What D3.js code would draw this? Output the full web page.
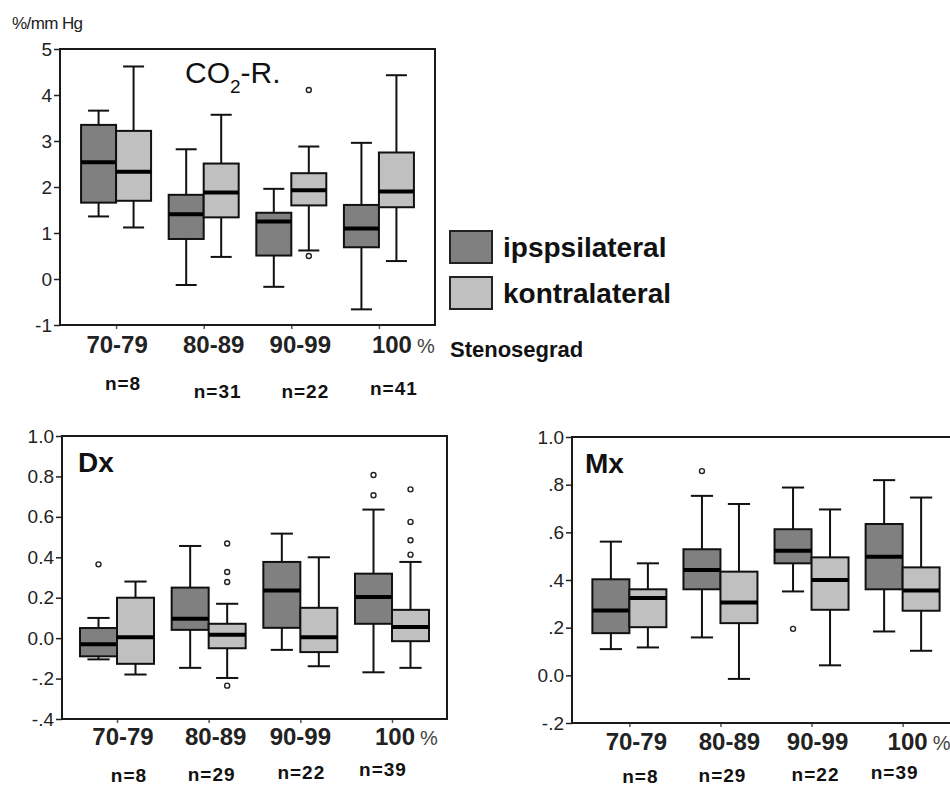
<!DOCTYPE html>
<html><head><meta charset="utf-8">
<script src="https://cdn.jsdelivr.net/npm/d3@7"></script>
<style>body{margin:0;background:#fff;overflow:hidden} svg{display:block;font-family:"Liberation Sans",Arial,sans-serif}</style>
</head><body><svg id="chart" width="950" height="787"></svg>
<script>
// ---------- data ----------
const categories = ["70-79","80-89","90-99","100"];
const groups = ["ipspsilateral","kontralateral"];
// box stats: [min, q1, median, q3, max]
const co2Ipsi   = [[1.36,1.66,2.54,3.35,3.66],[-0.13,0.87,1.41,1.83,2.82],[-0.17,0.51,1.25,1.44,1.96],[-0.66,0.69,1.10,1.61,2.96]];
const co2Kontra = [[1.12,1.70,2.33,3.22,4.62],[0.48,1.34,1.88,2.51,3.57],[0.62,1.60,1.93,2.30,2.88],[0.39,1.56,1.90,2.75,4.43]];
const co2Outliers = [["90-99","kontralateral",4.11],["90-99","kontralateral",0.50]];
const co2N = ["n=8","n=31","n=22","n=41"];
const co2Ticks = [-1,0,1,2,3,4,5];
const co2TickLabels = ["-1","0","1","2","3","4","5"];

const dxIpsi   = [[-0.105,-0.09,-0.03,0.05,0.10],[-0.147,0.041,0.096,0.25,0.456],[-0.058,0.051,0.236,0.377,0.517],[-0.169,0.071,0.203,0.319,0.636]];
const dxKontra = [[-0.18,-0.127,0.005,0.20,0.28],[-0.197,-0.05,0.017,0.071,0.17],[-0.139,-0.069,0.005,0.15,0.40],[-0.147,-0.015,0.055,0.14,0.377]];
const dxOutliers = [["70-79","ipspsilateral",0.365],["80-89","kontralateral",0.468],["80-89","kontralateral",0.327],["80-89","kontralateral",0.278],["80-89","kontralateral",-0.235],
                    ["100","ipspsilateral",0.807],["100","ipspsilateral",0.707],["100","kontralateral",0.736],["100","kontralateral",0.575],["100","kontralateral",0.484],["100","kontralateral",0.413]];
const dxN = ["n=8","n=29","n=22","n=39"];
const dxTicks = [-0.4,-0.2,0,0.2,0.4,0.6,0.8,1.0];
const dxTickLabels = ["-.4","-.2","0.0","0.2","0.4","0.6","0.8","1.0"];

const mxIpsi   = [[0.110,0.177,0.272,0.403,0.561],[0.159,0.361,0.442,0.529,0.753],[0.352,0.470,0.523,0.613,0.788],[0.184,0.361,0.498,0.635,0.819]];
const mxKontra = [[0.117,0.202,0.324,0.361,0.470],[-0.015,0.219,0.306,0.435,0.719],[0.042,0.275,0.400,0.495,0.696],[0.103,0.271,0.356,0.453,0.746]];
const mxOutliers = [["80-89","ipspsilateral",0.857],["90-99","ipspsilateral",0.195]];
const mxN = ["n=8","n=29","n=22","n=39"];
const mxTicks = [-0.2,0,0.2,0.4,0.6,0.8,1.0];
const mxTickLabels = ["-.2","0.0",".2",".4",".6",".8","1.0"];

// ---------- layout ----------
const colors = {"ipspsilateral":"#808080","kontralateral":"#c0c0c0"};
const svg = d3.select("#chart");

const panels = [
  {frame:{x0:60,x1:435,y0:49,y1:325}, domain:[-1,5], ticks:co2Ticks, tickLabels:co2TickLabels,
   ipsi:co2Ipsi, kontra:co2Kontra, outliers:co2Outliers, n:co2N, pad:0.64, boxW:35,
   catDx:[1,10,9,13], catY:353, nDx:[7,14,14,15], nY:[390,398,398,395], title:"co2"},
  {frame:{x0:62,x1:447,y0:436,y1:719}, domain:[-0.4,1.0], ticks:dxTicks, tickLabels:dxTickLabels,
   ipsi:dxIpsi, kontra:dxKontra, outliers:dxOutliers, n:dxN, pad:0.6, boxW:37,
   catDx:[6,7,0,3], catY:745, nDx:[12,3,1,-9], nY:[782,781,779,776], title:"Dx", titleX:78, titleY:472},
  {frame:{x0:572,x1:960,y0:437,y1:723}, domain:[-0.2,1.0], ticks:mxTicks, tickLabels:mxTickLabels,
   ipsi:mxIpsi, kontra:mxKontra, outliers:mxOutliers, n:mxN, pad:0.63, boxW:37,
   catDx:[7,9,6,5], catY:750, nDx:[11,2,4,-8], nY:[783,782,781,779], title:"Mx", titleX:585, titleY:473}
];

panels.forEach(p => {
  const f = p.frame;
  const g = svg.append("g");
  const y = d3.scaleLinear().domain(p.domain).range([f.y1, f.y0]);
  const x = d3.scalePoint().domain(categories).range([f.x0, f.x1]).padding(p.pad);
  const inner = d3.scaleBand().domain(groups).range([-p.boxW, p.boxW]);

  // y axis
  const ya = g.append("g").attr("transform", `translate(${f.x0},0)`)
    .call(d3.axisLeft(y).tickValues(p.ticks).tickFormat((d,i)=>p.tickLabels[i]).tickSize(6).tickPadding(2));
  ya.select(".domain").remove();
  ya.selectAll(".tick line").attr("stroke","#222").attr("stroke-width",1.5);
  ya.selectAll(".tick text").attr("font-size",19).attr("fill","#222").attr("font-family","Liberation Sans, Arial, sans-serif");

  // x axis ticks
  const xa = g.append("g").attr("transform", `translate(0,${f.y1})`)
    .call(d3.axisBottom(x).tickSize(4).tickFormat(""));
  xa.select(".domain").remove();
  xa.selectAll(".tick line").attr("stroke","#555").attr("stroke-width",1.5);

  // frame
  g.append("rect").attr("x",f.x0).attr("y",f.y0).attr("width",f.x1-f.x0).attr("height",f.y1-f.y0)
    .attr("fill","none").attr("stroke","#1a1a1a").attr("stroke-width",2);

  // boxes
  const series = [["ipspsilateral",p.ipsi],["kontralateral",p.kontra]];
  series.forEach(([grp, stats]) => {
    stats.forEach((s, i) => {
      const cat = categories[i];
      const bx = x(cat) + inner(grp);
      const bw = inner.bandwidth();
      const cx = bx + bw/2;
      const cap = bw*0.3;
      const bg = g.append("g");
      bg.append("line").attr("x1",cx).attr("x2",cx).attr("y1",y(s[4])).attr("y2",y(s[3])).attr("stroke","#111").attr("stroke-width",2);
      bg.append("line").attr("x1",cx).attr("x2",cx).attr("y1",y(s[1])).attr("y2",y(s[0])).attr("stroke","#111").attr("stroke-width",2);
      bg.append("line").attr("x1",cx-cap).attr("x2",cx+cap).attr("y1",y(s[4])).attr("y2",y(s[4])).attr("stroke","#111").attr("stroke-width",2);
      bg.append("line").attr("x1",cx-cap).attr("x2",cx+cap).attr("y1",y(s[0])).attr("y2",y(s[0])).attr("stroke","#111").attr("stroke-width",2);
      bg.append("rect").attr("x",bx).attr("y",y(s[3])).attr("width",bw).attr("height",y(s[1])-y(s[3]))
        .attr("fill",colors[grp]).attr("stroke","#111").attr("stroke-width",2);
      bg.append("line").attr("x1",bx).attr("x2",bx+bw).attr("y1",y(s[2])).attr("y2",y(s[2])).attr("stroke","#000").attr("stroke-width",4);
    });
  });

  // outliers
  p.outliers.forEach(([cat,grp,v]) => {
    const cx = x(cat) + inner(grp) + inner.bandwidth()/2;
    g.append("circle").attr("cx",cx).attr("cy",y(v)).attr("r",2.5).attr("fill","none").attr("stroke","#222").attr("stroke-width",1.4);
  });

  // category labels
  categories.forEach((c,i) => {
    const t = g.append("text").attr("x", x(c)+p.catDx[i]).attr("y", p.catY).attr("text-anchor","middle")
      .attr("font-size",24).attr("font-weight","bold").attr("fill","#222").text(c);
    if (c === "100") {
      const w = t.node().getComputedTextLength();
      g.append("text").attr("x", x(c)+p.catDx[i]+w/2+5).attr("y",p.catY).attr("font-size",20).attr("fill","#444").text("%");
    }
    g.append("text").attr("x", x(c)+p.nDx[i]).attr("y", p.nY[i]).attr("text-anchor","middle")
      .attr("font-size",19).attr("font-weight","bold").attr("letter-spacing",1).attr("fill","#111").text(p.n[i]);
  });

  // titles
  if (p.title === "co2") {
    const t = g.append("text").attr("x",185).attr("y",83).attr("font-size",30).attr("fill","#111");
    t.append("tspan").text("CO");
    t.append("tspan").attr("font-size",19).attr("dy",10).text("2");
    t.append("tspan").attr("dy",-10).text("-R.");
  } else {
    g.append("text").attr("x",p.titleX).attr("y",p.titleY).attr("font-size",28).attr("font-weight","bold").attr("fill","#111").text(p.title);
  }
});

// unit label
svg.append("text").attr("x",12).attr("y",29).attr("font-size",17).attr("letter-spacing",-0.6).attr("fill","#222").text("%/mm Hg");

// legend
const leg = svg.append("g");
groups.forEach((grp,i) => {
  leg.append("rect").attr("x",450).attr("y",231+i*46).attr("width",42).attr("height",32)
    .attr("fill",colors[grp]).attr("stroke","#222").attr("stroke-width",2);
  leg.append("text").attr("x",503).attr("y",257+i*46).attr("font-size",28).attr("font-weight","bold").attr("fill","#111").text(grp);
});
svg.append("text").attr("x",450).attr("y",357).attr("font-size",22).attr("font-weight","bold").attr("fill","#111").text("Stenosegrad");
</script></body></html>
